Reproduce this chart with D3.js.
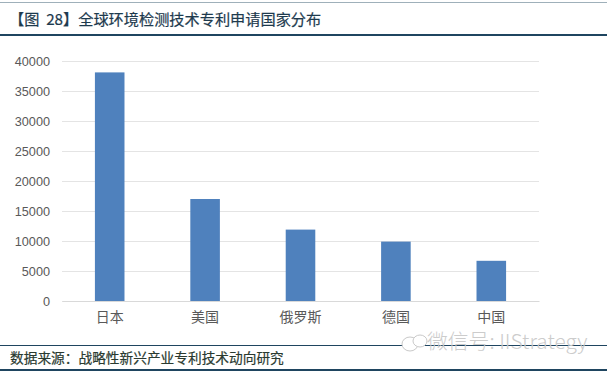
<!DOCTYPE html>
<html>
<head>
<meta charset="utf-8">
<script src="https://cdn.jsdelivr.net/npm/d3@7"></script>
<style>
html, body { margin: 0; padding: 0; background: #fff; }
svg { display: block; }
text { font-family: "Noto Sans CJK SC", sans-serif; white-space: pre; }
</style>
</head>
<body>
<script>
var categories = ["日本", "美国", "俄罗斯", "德国", "中国"];
var values = [38100, 17000, 11900, 9900, 6700];
var yTicks = [0, 5000, 10000, 15000, 20000, 25000, 30000, 35000, 40000];

var titleText = "【图  28】全球环境检测技术专利申请国家分布";
var sourceText = "数据来源：战略性新兴产业专利技术动向研究";
var watermarkText = "微信号: IIStrategy";

var width = 607, height = 373;
var margin = {top: 61, right: 68, bottom: 72, left: 62};
var w = width - margin.left - margin.right,
    h = height - margin.top - margin.bottom;

var svg = d3.select("body").append("svg")
    .attr("width", width)
    .attr("height", height);

// title and source rules
var rules = [[2, 1, "#9fb0ba"], [34, 2, "#1f4560"], [345, 1, "#1f4560"], [369, 2, "#1f4560"]];
rules.forEach(function(r) {
    svg.append("rect")
        .attr("x", 0).attr("y", r[0])
        .attr("width", width).attr("height", r[1])
        .attr("fill", r[2]);
});

svg.append("text")
    .attr("x", 9).attr("y", 25)
    .attr("font-size", 15.2)
    .attr("fill", "#1d3a4e")
    .attr("stroke", "#1d3a4e")
    .attr("stroke-width", 0.2)
    .text(titleText);

svg.append("text")
    .attr("x", 10).attr("y", 363)
    .attr("font-size", 13.7)
    .attr("fill", "#2a3a30")
    .attr("stroke", "#2a3a30")
    .attr("stroke-width", 0.2)
    .text(sourceText);

var g = svg.append("g")
    .attr("transform", "translate(" + margin.left + "," + margin.top + ")");

var x = d3.scaleBand()
    .domain(categories)
    .range([0, w])
    .paddingInner(0.69)
    .paddingOuter(0.345);

var y = d3.scaleLinear()
    .domain([0, 40000])
    .range([h, 0]);

// gridlines come from the y axis ticks
var yAxis = d3.axisLeft(y).tickValues(yTicks).tickSize(-w).tickPadding(12).tickFormat(d3.format("d"));
var yG = g.append("g").attr("class", "y axis").call(yAxis);
yG.select(".domain").remove();
yG.selectAll(".tick line").attr("stroke", "#e4e4e4").attr("stroke-width", 1.2);
yG.selectAll(".tick text")
    .attr("font-size", 12.7)
    .attr("fill", "#595959")
    .style("font-family", "'Liberation Sans', sans-serif");

g.selectAll(".bar")
    .data(values)
    .enter().append("rect")
    .attr("class", "bar")
    .attr("fill", "#4f81bd")
    .attr("x", function(d, i) { return x(categories[i]); })
    .attr("width", x.bandwidth())
    .attr("y", function(d) { return y(d); })
    .attr("height", function(d) { return y(0) - y(d); });

var xAxis = d3.axisBottom(x).tickSize(0).tickPadding(11);
var xG = g.append("g")
    .attr("class", "x axis")
    .attr("transform", "translate(0," + y(0) + ")")
    .call(xAxis);
xG.select(".domain").attr("stroke", "#d9d9d9").attr("stroke-width", 1.2);
xG.selectAll(".tick text")
    .attr("font-size", 14)
    .attr("fill", "#595959");

// watermark
var wm = svg.append("g").attr("fill", "none").attr("stroke", "#c9c9c9").attr("stroke-width", 1);
wm.append("ellipse").attr("cx", 410).attr("cy", 344).attr("rx", 8).attr("ry", 7).attr("fill", "#fff");
wm.append("ellipse").attr("cx", 420).attr("cy", 341).attr("rx", 7).attr("ry", 6).attr("fill", "#fff");

svg.append("text")
    .attr("x", 427).attr("y", 349)
    .attr("font-size", 20.8)
    .attr("font-weight", 300)
    .attr("fill", "#cccccc")
    .text(watermarkText);
</script>
</body>
</html>
